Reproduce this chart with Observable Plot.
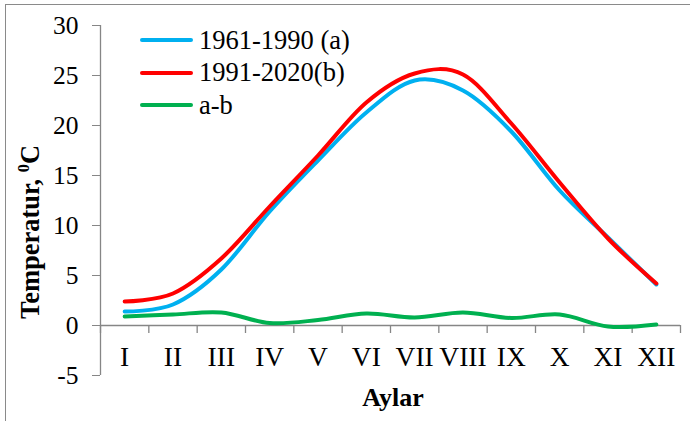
<!DOCTYPE html>
<html>
<head>
<meta charset="utf-8">
<script src="https://cdn.jsdelivr.net/npm/d3@7"></script>
<script src="https://cdn.jsdelivr.net/npm/@observablehq/plot@0.6"></script>
<style>
  body { margin: 0; background: #fff; }
  #wrap { position: relative; width: 690px; height: 421px; overflow: hidden;
          font-family: "Liberation Serif", "Times New Roman", serif; color: #000; }
  #frame { position: absolute; left: 5px; top: 4px; width: 720px; height: 450px;
           border-left: 1.5px solid #8a8a8a; border-top: 1.5px solid #8a8a8a; box-sizing: border-box; }
  #chart { position: absolute; left: 0; top: 0; }
  #chart svg text { font-family: "Liberation Serif", "Times New Roman", serif !important; }
  .legend { position: absolute; left: 140px; top: 24px; font-size: 26.5px; }
  .legend .row { position: absolute; left: 0; height: 32px; display: flex; align-items: center; white-space: nowrap; }
  .legend .sw { width: 53px; height: 4px; border-radius: 2px; margin-right: 6px; }
  .ylab { position: absolute; left: 30px; top: 232px; transform: translate(-50%, -50%) rotate(-90deg);
          font-weight: bold; font-size: 26.5px; white-space: nowrap; }
  .ylab sup { font-size: 62%; vertical-align: 0.6em; line-height: 0; }
  .xlab { position: absolute; left: 393px; top: 398px; transform: translate(-50%, -50%);
          font-weight: bold; font-size: 26px; white-space: nowrap; }
</style>
</head>
<body>
<div id="wrap">
  <div id="frame"></div>
  <div id="chart"></div>
  <div class="legend" id="legend"></div>
  <div class="ylab">Temperatur, <sup>0</sup>C</div>
  <div class="xlab">Aylar</div>
</div>
<script>
// ---- data ----
const months = ["I", "II", "III", "IV", "V", "VI", "VII", "VIII", "IX", "X", "XI", "XII"];
const t1961_1990 = [1.4, 2.1, 5.6, 11.4, 16.5, 21.3, 24.5, 23.5, 19.4, 13.5, 8.8, 4.1];
const t1991_2020 = [2.4, 3.2, 6.7, 11.9, 17.0, 22.3, 25.2, 25.1, 20.2, 14.3, 8.7, 4.2];
const tDiff      = [0.9, 1.1, 1.3, 0.25, 0.55, 1.2, 0.8, 1.3, 0.75, 1.1, -0.1, 0.1];
const seriesNames = ["1961-1990 (a)", "1991-2020(b)", "a-b"];
const seriesColors = ["#00B0F0", "#FF0000", "#00B050"];
const yTicks = [-5, 0, 5, 10, 15, 20, 25, 30];

// ---- build table ----
const seriesValues = [t1961_1990, t1991_2020, tDiff];
const rows = [];
seriesValues.forEach((arr, s) => arr.forEach((v, i) => rows.push({ series: seriesNames[s], idx: i + 1, v })));
const bounds = d3.range(0, months.length + 1).map(k => k + 0.5);
const monthRows = months.map((m, i) => ({ m, idx: i + 1 }));
const axisGray = "#868686";

const chart = Plot.plot({
  width: 690,
  height: 421,
  marginLeft: 100,
  marginRight: 10,
  marginTop: 25,
  marginBottom: 46,
  style: { fontFamily: "Liberation Serif, Times New Roman, serif", fontSize: "25px", color: "#000", background: "transparent", overflow: "visible" },
  x: { domain: [0.5, months.length + 0.5], axis: null },
  y: { domain: [-5, 30], axis: null },
  color: { domain: seriesNames, range: seriesColors },
  marks: [
    Plot.ruleX([0.5], { stroke: axisGray, strokeWidth: 1.3 }),
    Plot.axisY({ ticks: yTicks, tickSize: 8, tickPadding: 14, stroke: axisGray, fill: "#000",
                 fontSize: 25.5, tickFormat: d => String(d), label: null }),
    Plot.ruleY([0], { stroke: axisGray, strokeWidth: 1.3 }),
    Plot.ruleX(bounds, { x: d => d, y1: () => 0, y2: () => 0, insetBottom: -8, stroke: axisGray, strokeWidth: 1.3 }),
    Plot.text(monthRows, { x: "idx", y: () => 0, text: "m", dy: 32, fontSize: 27.5, fill: "#000" }),
    Plot.line(rows, { x: "idx", y: "v", z: "series", stroke: "series", strokeWidth: 4, curve: "cardinal" })
  ]
});
document.getElementById("chart").appendChild(chart);

// ---- legend ----
const legend = document.getElementById("legend");
seriesNames.forEach((name, i) => {
  const row = document.createElement("div");
  row.className = "row";
  row.style.top = (i * 32.7) + "px";
  const sw = document.createElement("div");
  sw.className = "sw";
  sw.style.background = seriesColors[i];
  const tx = document.createElement("span");
  tx.textContent = name;
  row.appendChild(sw);
  row.appendChild(tx);
  legend.appendChild(row);
});
</script>
</body>
</html>
